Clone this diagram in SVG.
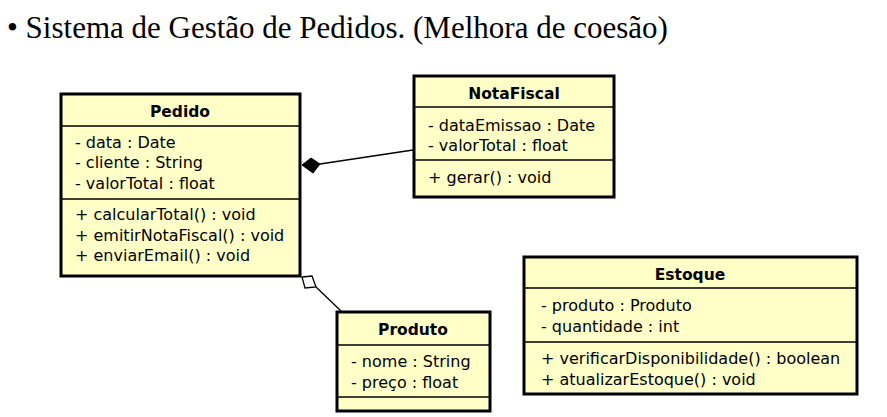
<svg xmlns="http://www.w3.org/2000/svg" width="887" height="417" viewBox="0 0 887 417">
<style>
.box{fill:#ffffc8;stroke:#000;stroke-width:3}
.sep{stroke:#000;stroke-width:1.5}
.t{font-family:"DejaVu Sans",sans-serif;font-size:16px;fill:#000}
.h{font-family:"DejaVu Sans",sans-serif;font-size:15.5px;font-weight:bold;fill:#000;text-anchor:middle}
.title{font-family:"Liberation Serif",serif;font-size:31px;fill:#000}
.ln{stroke:#000;stroke-width:1.3;fill:none}
</style>
<rect width="887" height="417" fill="#fff"/>
<text class="title" x="7" y="38">• Sistema de Gestão de Pedidos. (Melhora de coesão)</text>
<g id="connectors">
<line class="ln" x1="320" y1="164" x2="413" y2="150"/>
<polygon points="302,165 311,158 320,164 313,173" fill="#000" stroke="#000" stroke-width="1"/>
<line class="ln" x1="316" y1="287" x2="341" y2="311"/>
<polygon points="302,277 312,276 316,287 305,288" fill="#fff" stroke="#000" stroke-width="1.3"/>
</g>
<g id="Pedido">
<rect class="box" x="61" y="94" width="239" height="182"/>
<line class="sep" x1="61" y1="126" x2="300" y2="126"/>
<line class="sep" x1="61" y1="199" x2="300" y2="199"/>
<text class="h" x="180" y="117">Pedido</text>
<text class="t" x="75" y="148">- data : Date</text>
<text class="t" x="75" y="168">- cliente : String</text>
<text class="t" x="75" y="189">- valorTotal : float</text>
<text class="t" x="75" y="220">+ calcularTotal() : void</text>
<text class="t" x="75" y="241">+ emitirNotaFiscal() : void</text>
<text class="t" x="75" y="261">+ enviarEmail() : void</text>
</g>
<g id="NotaFiscal">
<rect class="box" x="414" y="76" width="200" height="121"/>
<line class="sep" x1="414" y1="107" x2="614" y2="107"/>
<line class="sep" x1="414" y1="160" x2="614" y2="160"/>
<text class="h" x="514" y="99">NotaFiscal</text>
<text class="t" x="428" y="131">- dataEmissao : Date</text>
<text class="t" x="428" y="151">- valorTotal : float</text>
<text class="t" x="428" y="183">+ gerar() : void</text>
</g>
<g id="Produto">
<rect class="box" x="337" y="312" width="153" height="99"/>
<line class="sep" x1="337" y1="345" x2="490" y2="345"/>
<line class="sep" x1="337" y1="397" x2="490" y2="397"/>
<text class="h" x="413" y="335">Produto</text>
<text class="t" x="351" y="367">- nome : String</text>
<text class="t" x="351" y="388">- preço : float</text>
</g>
<g id="Estoque">
<rect class="box" x="524" y="257" width="333" height="137"/>
<line class="sep" x1="524" y1="288" x2="857" y2="288"/>
<line class="sep" x1="524" y1="342" x2="857" y2="342"/>
<text class="h" x="690" y="280">Estoque</text>
<text class="t" x="541" y="311">- produto : Produto</text>
<text class="t" x="541" y="332">- quantidade : int</text>
<text class="t" x="541" y="364">+ verificarDisponibilidade() : boolean</text>
<text class="t" x="541" y="385">+ atualizarEstoque() : void</text>
</g>
</svg>
